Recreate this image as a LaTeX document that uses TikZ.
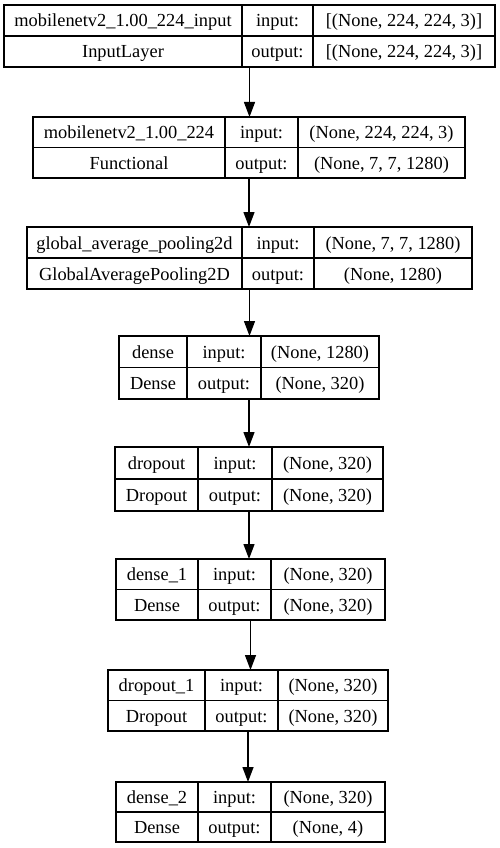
\documentclass[tikz,border=0pt]{standalone}
\usepackage{fontspec}
\setmainfont{Liberation Serif}
\usetikzlibrary{arrows.meta}
\tikzset{
  layerbox/.style={draw, line width=1.33pt, inner sep=0pt, outer sep=0pt, rectangle},
  cellline/.style={line width=1.33pt},
  celltext/.style={anchor=base, inner sep=0pt, font=\fontsize{18.4}{22}\selectfont},
  flow/.style={line width=1.33pt, -{Triangle[length=15pt,width=11pt]}}
}
% id x1 d1 d2 x2 ytop ybot
\newcommand\layer[7]{%
  \pgfmathsetmacro\lmid{(#6+#7)/2}%
  \node[layerbox, minimum width={(#5-#2)*1pt}, minimum height={(#7-#6)*1pt}] (#1) at ({(#2+#5)/2},\lmid) {};
  \draw[cellline] (#3,#6) -- (#3,#7) (#4,#6) -- (#4,#7) (#2,\lmid) -- (#5,\lmid);
  \pgfmathsetmacro\lra{(#6+\lmid)/2+6.5}%
  \pgfmathsetmacro\lrb{(\lmid+#7)/2+6.5}%
  \coordinate (#1-a) at ({(#2+#3)/2},\lra);
  \coordinate (#1-b) at ({(#2+#3)/2},\lrb);
  \coordinate (#1-c) at ({(#3+#4)/2},\lra);
  \coordinate (#1-d) at ({(#3+#4)/2},\lrb);
  \coordinate (#1-e) at ({(#4+#5)/2},\lra);
  \coordinate (#1-f) at ({(#4+#5)/2},\lrb);
}
% id name type in out
\newcommand\layertext[5]{%
  \node[celltext] (#1-name) at (#1-a) {#2};
  \node[celltext] (#1-type) at (#1-b) {#3};
  \node[celltext] (#1-inl) at (#1-c) {input:};
  \node[celltext] (#1-outl) at (#1-d) {output:};
  \node[celltext] (#1-in) at (#1-e) {#4};
  \node[celltext] (#1-out) at (#1-f) {#5};
}
\begin{document}
\begin{tikzpicture}[x=1pt,y=-1pt]
\useasboundingbox (0,0) rectangle (499,848);
\fill[white] (0,0) rectangle (499,848);
\layer{L1}{4}{242}{313}{495}{5}{67}
\layertext{L1}{mobilenetv2\_1.00\_224\_input}{InputLayer}{[(None, 224, 224, 3)]}{[(None, 224, 224, 3)]}
\layer{L2}{33}{225}{298}{465}{117}{178}
\layertext{L2}{mobilenetv2\_1.00\_224}{Functional}{(None, 224, 224, 3)}{(None, 7, 7, 1280)}
\layer{L3}{27}{242}{314}{472}{227}{289}
\layertext{L3}{global\_average\_pooling2d}{GlobalAveragePooling2D}{(None, 7, 7, 1280)}{(None, 1280)}
\layer{L4}{119}{187}{261}{379}{336}{399}
\layertext{L4}{dense}{Dense}{(None, 1280)}{(None, 320)}
\layer{L5}{115}{198}{272}{383}{447}{511}
\layertext{L5}{dropout}{Dropout}{(None, 320)}{(None, 320)}
\layer{L6}{116}{198}{271}{385}{559}{620}
\layertext{L6}{dense\_1}{Dense}{(None, 320)}{(None, 320)}
\layer{L7}{108}{205}{278}{388}{670}{731}
\layertext{L7}{dropout\_1}{Dropout}{(None, 320)}{(None, 320)}
\layer{L8}{116}{198}{271}{385}{782}{842}
\layertext{L8}{dense\_2}{Dense}{(None, 320)}{(None, 4)}
\draw[flow] (L1.south) -- (L1.south |- L2.north);
\draw[flow] (L2.south) -- (L2.south |- L3.north);
\draw[flow] (L3.south) -- (L3.south |- L4.north);
\draw[flow] (L4.south) -- (L4.south |- L5.north);
\draw[flow] (L5.south) -- (L5.south |- L6.north);
\draw[flow] (L6.south) -- (L6.south |- L7.north);
\draw[flow] (L7.south) -- (L7.south |- L8.north);
\end{tikzpicture}
\end{document}
